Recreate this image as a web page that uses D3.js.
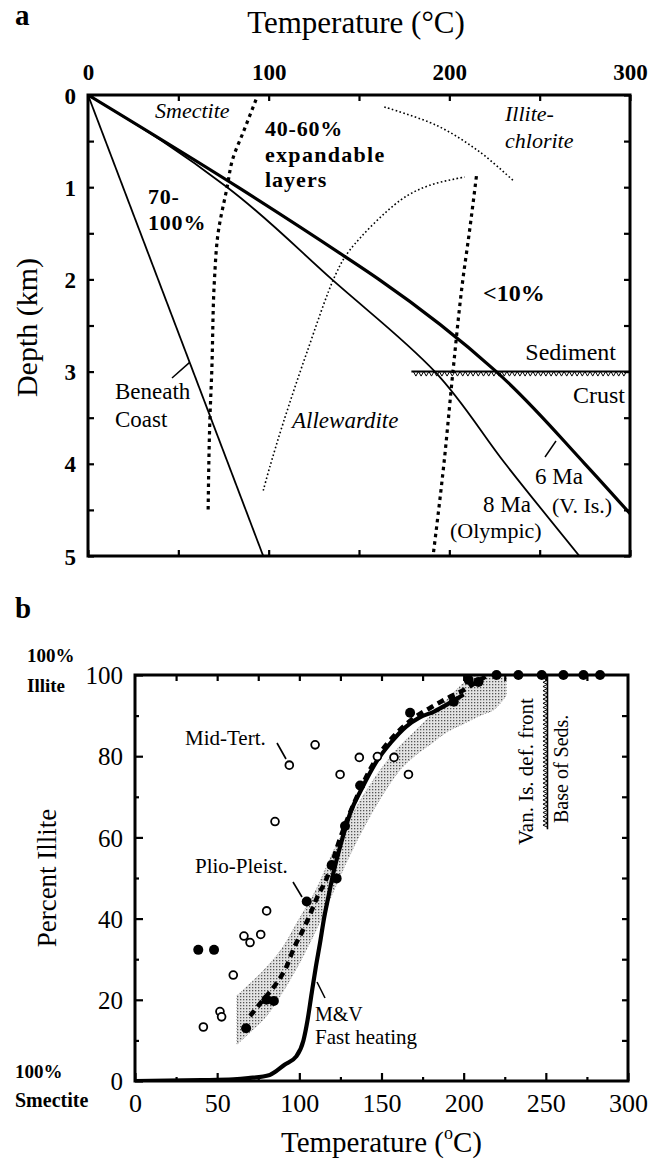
<!DOCTYPE html>
<html><head><meta charset="utf-8">
<script src="https://cdn.jsdelivr.net/npm/d3@7"></script>
<style>
body{margin:0;background:#fff}
svg{display:block}
text{font-family:"Liberation Serif","Times New Roman",serif;fill:#000}
</style>
</head><body>
<svg id="c" width="663" height="1161"></svg>
<script>
// ---------- Panel a data ([temperature °C, depth km]) ----------
const tempTicksA = [0, 50, 100, 150, 200, 250, 300];
const depthTicksA = [0, 0.5, 1, 1.5, 2, 2.5, 3, 3.5, 4, 4.5, 5];
const geothermCoast = [[0, 0], [97, 5]];
const geotherm8Ma = [[0, 0], [41, 0.5], [77, 1], [135, 2], [192, 3], [231, 4], [272, 5]];
const geotherm6Ma = [[0, 0], [83, 1], [142, 1.75], [161, 2], [226, 3], [275, 4], [305, 4.65]];
const isogradSmectite = [[93, 0.05], [86, 0.4], [80, 0.7], [77, 1], [72, 1.5], [70, 2], [68.5, 3], [67.5, 3.5], [66.5, 4.5]];
const isogradIllite = [[215, 0.88], [211, 1.5], [207.5, 2], [202, 3], [197, 4], [191, 5]];
const allewarditeBound = [[97, 4.29], [100.7, 4.03], [108, 3.56], [121, 2.8], [137, 1.95], [145, 1.68], [173, 1.14], [189, 0.98], [208.6, 0.89]];
const chloriteBound = [[164, 0.13], [193, 0.33], [217, 0.62], [236, 0.94]];
const boundaryDepth = 3;
const boundaryTemps = [179, 300];

// ---------- Panel b data ([temperature °C, percent illite]) ----------
const tempTicksB = [0, 50, 100, 150, 200, 250, 300];
const illiteTicks = [0, 20, 40, 60, 80, 100];
const openCircles = [[93.9, 77.8], [109.6, 82.8], [124.8, 75.5], [136.5, 79.7], [147.5, 79.9], [157.6, 79.7], [166.4, 75.5], [85.2, 63.9], [80.1, 41.9], [66.3, 35.7], [70, 34.1], [76.5, 36.1], [59.8, 26.1], [51.7, 17.1], [52.7, 15.8], [41.6, 13.3]];
const filledCircles = [[38.5, 32.3], [48.1, 32.3], [67.6, 13], [80, 20], [84.5, 19.7], [104.5, 44.2], [122.7, 49.9], [119.7, 53.2], [127.8, 62.8], [137, 72.8], [167.4, 90.7], [194, 93.4], [203, 98.8], [209, 98.3], [220, 100], [233.3, 100], [247.5, 100], [260.7, 100], [272.9, 100], [283, 100]];
const fastHeating = [[0, 0], [40, 0.2], [60, 0.4], [69, 0.7], [82, 1.5], [91, 4], [98, 6], [102.5, 10], [105, 15], [107.5, 21.6], [110, 28], [112.6, 34], [115, 40], [117.7, 45.4], [120.7, 51.2], [125, 58], [131, 66], [138, 72], [147, 78.7], [156, 83.5], [165, 87.3], [173, 89.5], [182, 91], [191, 93], [200, 95.2]];
const plioModel = [[70, 16], [78, 20], [86, 24], [92, 28], [97, 33], [102, 37], [106.5, 41], [110.6, 45], [116.7, 50], [125, 60], [135, 70], [147, 79.5], [160, 86], [170, 89.5], [180, 92], [190, 94.3], [200, 96.3], [208, 98.3], [215, 100]];
const bandTemps = [62, 70, 80, 90, 100, 110, 120, 130, 140, 150, 160, 170, 180, 190, 200, 210, 220, 226];
const bandUpper = [21, 24, 28, 33, 40, 47, 56, 64, 71, 77, 82, 86, 90, 94, 98, 100, 100, 100];
const bandLower = [9, 12, 16, 22, 29, 37, 46, 55, 63, 70, 76, 80, 83, 86, 88, 90, 92, 95];
const defFrontTemp = 251;
const defFrontRange = [62, 100];

const svg = d3.select("#c");

// ================= PANEL A =================
const xA = d3.scaleLinear([0, 300], [88, 630]);
const yA = d3.scaleLinear([0, 5], [95, 556]);
const gA = svg.append("g");
svg.append("clipPath").attr("id", "clipA").append("rect")
  .attr("x", xA(0)).attr("y", yA(0)).attr("width", xA(300) - xA(0)).attr("height", yA(5) - yA(0));
const plotA = gA.append("g").attr("clip-path", "url(#clipA)");
const lineA = d3.line().x(d => xA(d[0])).y(d => yA(d[1]));
const smoothA = d3.line().x(d => xA(d[0])).y(d => yA(d[1])).curve(d3.curveMonotoneY);
const catA = d3.line().x(d => xA(d[0])).y(d => yA(d[1])).curve(d3.curveCatmullRom);

plotA.append("path").attr("d", lineA(geothermCoast)).attr("fill", "none").attr("stroke", "#000").attr("stroke-width", 1.8);
plotA.append("path").attr("d", smoothA(geotherm8Ma)).attr("fill", "none").attr("stroke", "#000").attr("stroke-width", 1.8);
plotA.append("path").attr("d", smoothA(geotherm6Ma)).attr("fill", "none").attr("stroke", "#000").attr("stroke-width", 3.2);
plotA.append("path").attr("d", smoothA(isogradSmectite)).attr("fill", "none").attr("stroke", "#000")
  .attr("stroke-width", 3.2).attr("stroke-dasharray", "3.5,4");
plotA.append("path").attr("d", smoothA(isogradIllite)).attr("fill", "none").attr("stroke", "#000")
  .attr("stroke-width", 3.2).attr("stroke-dasharray", "3.5,4");
plotA.append("path").attr("d", catA(allewarditeBound))
  .attr("fill", "none").attr("stroke", "#000").attr("stroke-width", 1.6).attr("stroke-dasharray", "1.6,2.4");
plotA.append("path").attr("d", catA(chloriteBound))
  .attr("fill", "none").attr("stroke", "#000").attr("stroke-width", 1.6).attr("stroke-dasharray", "1.6,2.4");

// sediment / crust boundary with hatching
const bx0 = xA(boundaryTemps[0]), bx1 = xA(boundaryTemps[1]), by = yA(boundaryDepth);
plotA.append("line").attr("x1", bx0).attr("x2", bx1).attr("y1", by).attr("y2", by).attr("stroke", "#000").attr("stroke-width", 2);
let hatch = "";
for (let x = bx0 + 2; x + 5 <= bx1; x += 5.2) hatch += `M${x},${by}L${x + 2.5},${by + 4.5}L${x + 5},${by}`;
plotA.append("path").attr("d", hatch).attr("fill", "none").attr("stroke", "#000").attr("stroke-width", 1);

// axes A
function styleAxis(g) { g.select(".domain").remove(); g.selectAll(".tick line").attr("stroke", "#000").attr("stroke-width", 2.2); }
gA.append("g").attr("transform", `translate(0,${yA(0)})`)
  .call(d3.axisTop(xA).tickValues(tempTicksA).tickSize(-6).tickPadding(15).tickFormat(d => d % 100 === 0 ? d : ""))
  .call(styleAxis).call(g => g.selectAll("text").attr("font-size", 23).attr("font-weight", "bold").attr("font-family", "Liberation Serif"));
gA.append("g").attr("transform", `translate(0,${yA(5)})`)
  .call(d3.axisBottom(xA).tickValues(tempTicksA).tickSize(-6).tickFormat("")).call(styleAxis);
gA.append("g").attr("transform", `translate(${xA(0)},0)`)
  .call(d3.axisLeft(yA).tickValues(depthTicksA).tickSize(-6).tickPadding(12).tickFormat(d => Number.isInteger(d) ? d : ""))
  .call(styleAxis).call(g => g.selectAll("text").attr("font-size", 23).attr("font-weight", "bold").attr("font-family", "Liberation Serif").attr("dy", "0.35em"));
gA.append("g").attr("transform", `translate(${xA(300)},0)`)
  .call(d3.axisRight(yA).tickValues(depthTicksA).tickSize(-6).tickFormat("")).call(styleAxis);
gA.append("rect").attr("x", xA(0)).attr("y", yA(0)).attr("width", xA(300) - xA(0)).attr("height", yA(5) - yA(0))
  .attr("fill", "none").attr("stroke", "#000").attr("stroke-width", 3);

function txt(g, x, y, s, size, opts = {}) {
  const t = g.append("text").attr("x", x).attr("y", y).attr("font-size", size).text(s);
  if (opts.bold) t.attr("font-weight", "bold");
  if (opts.italic) t.attr("font-style", "italic");
  if (opts.anchor) t.attr("text-anchor", opts.anchor);
  if (opts.ls) t.attr("letter-spacing", opts.ls);
  return t;
}
txt(gA, 15, 25, "a", 29, { bold: true });
txt(gA, 356, 33, "Temperature (°C)", 31, { anchor: "middle" });
gA.append("text").attr("transform", `translate(37,${(yA(0) + yA(5)) / 2 + 2}) rotate(-90)`)
  .attr("text-anchor", "middle").attr("font-size", 30).text("Depth (km)");

txt(gA, 155, 118, "Smectite", 22, { italic: true });
txt(gA, 265, 136, "40-60%", 22, { bold: true, ls: 0.8 });
txt(gA, 265, 162, "expandable", 22, { bold: true, ls: 1.3 });
txt(gA, 265, 187, "layers", 22, { bold: true, ls: 1 });
txt(gA, 148, 204, "70-", 22, { bold: true, ls: 0.8 });
txt(gA, 148, 230, "100%", 22, { bold: true, ls: 0.8 });
txt(gA, 505, 121, "Illite-", 22, { italic: true });
txt(gA, 505, 148, "chlorite", 22, { italic: true });
txt(gA, 483, 301, "<10%", 24, { bold: true });
txt(gA, 292, 428, "Allewardite", 23, { italic: true });
txt(gA, 115, 399, "Beneath", 23);
txt(gA, 115, 427, "Coast", 23);
txt(gA, 616, 360, "Sediment", 24, { anchor: "end" });
txt(gA, 625, 403, "Crust", 24, { anchor: "end" });
txt(gA, 535, 484, "6 Ma", 23);
txt(gA, 552, 513, "(V. Is.)", 22);
txt(gA, 483, 512, "8 Ma", 23);
txt(gA, 450, 538, "(Olympic)", 22);
// leaders
gA.append("line").attr("x1", 172).attr("y1", 378).attr("x2", xA(geothermCoast[1][0] * 0.58)).attr("y2", yA(5 * 0.58)).attr("stroke", "#000").attr("stroke-width", 1.5);
gA.append("line").attr("x1", 545).attr("y1", 457).attr("x2", 556).attr("y2", 441).attr("stroke", "#000").attr("stroke-width", 1.5);

// ================= PANEL B =================
const xB = d3.scaleLinear([0, 300], [135, 628]);
const yB = d3.scaleLinear([0, 100], [1081, 675]);
const gB = svg.append("g");
svg.append("clipPath").attr("id", "clipB").append("rect")
  .attr("x", xB(0)).attr("y", yB(100)).attr("width", xB(300) - xB(0)).attr("height", yB(0) - yB(100));
const plotB = gB.append("g").attr("clip-path", "url(#clipB)");

const defs = svg.append("defs");
const pat = defs.append("pattern").attr("id", "stip").attr("width", 3).attr("height", 3).attr("patternUnits", "userSpaceOnUse");
pat.append("rect").attr("width", 3).attr("height", 3).attr("fill", "#e3e3e3");
pat.append("rect").attr("width", 1.3).attr("height", 1.3).attr("fill", "#555");

const bandData = bandTemps.map((t, i) => ({ t, lo: bandLower[i], hi: bandUpper[i] }));
plotB.append("path").attr("d", d3.area().x(d => xB(d.t)).y0(d => yB(d.lo)).y1(d => yB(d.hi)).curve(d3.curveMonotoneX)(bandData))
  .attr("fill", "url(#stip)").attr("stroke", "#888").attr("stroke-width", 0.8).attr("stroke-dasharray", "1,2");

const lineB = d3.line().x(d => xB(d[0])).y(d => yB(d[1])).curve(d3.curveMonotoneX);
plotB.append("path").attr("d", lineB(plioModel)).attr("fill", "none").attr("stroke", "#000")
  .attr("stroke-width", 4.5).attr("stroke-dasharray", "7,5");
plotB.append("path").attr("d", lineB(fastHeating)).attr("fill", "none").attr("stroke", "#000").attr("stroke-width", 4.2);

plotB.selectAll("circle.open").data(openCircles).join("circle").attr("class", "open")
  .attr("cx", d => xB(d[0])).attr("cy", d => yB(d[1])).attr("r", 3.9)
  .attr("fill", "#fff").attr("stroke", "#000").attr("stroke-width", 1.8);

// deformation front
const fx = xB(defFrontTemp);
gB.append("line").attr("x1", fx).attr("x2", fx).attr("y1", yB(defFrontRange[1])).attr("y2", yB(defFrontRange[0]))
  .attr("stroke", "#000").attr("stroke-width", 1.6);
let zig = "";
for (let y = yB(defFrontRange[1]) + 1; y + 4 <= yB(defFrontRange[0]); y += 4.2) zig += `M${fx},${y}L${fx - 4.5},${y + 2.1}L${fx},${y + 4.2}`;
gB.append("path").attr("d", zig).attr("fill", "none").attr("stroke", "#000").attr("stroke-width", 1);

// axes B
gB.append("g").attr("transform", `translate(0,${yB(0)})`)
  .call(d3.axisBottom(xB).tickValues(d3.range(25, 300, 50)).tickSize(-4).tickFormat("")).call(styleAxis);
gB.append("g").attr("transform", `translate(0,${yB(0)})`)
  .call(d3.axisBottom(xB).tickValues(tempTicksB).tickSize(-8).tickPadding(13))
  .call(styleAxis).call(g => g.selectAll("text").attr("font-size", 26).attr("font-family", "Liberation Serif"));
gB.append("g").attr("transform", `translate(0,${yB(100)})`)
  .call(d3.axisTop(xB).tickValues(d3.range(25, 300, 25)).tickSize(-6).tickFormat("")).call(styleAxis);
gB.append("g").attr("transform", `translate(${xB(0)},0)`)
  .call(d3.axisLeft(yB).tickValues(d3.range(10, 100, 20)).tickSize(-4).tickFormat("")).call(styleAxis);
gB.append("g").attr("transform", `translate(${xB(0)},0)`)
  .call(d3.axisLeft(yB).tickValues(illiteTicks).tickSize(-8).tickPadding(12))
  .call(styleAxis).call(g => g.selectAll("text").attr("font-size", 25).attr("font-family", "Liberation Serif").attr("dy", "0.35em"));
gB.append("g").attr("transform", `translate(${xB(300)},0)`)
  .call(d3.axisRight(yB).tickValues(d3.range(10, 100, 10)).tickSize(-6).tickFormat("")).call(styleAxis);
gB.append("rect").attr("x", xB(0)).attr("y", yB(100)).attr("width", xB(300) - xB(0)).attr("height", yB(0) - yB(100))
  .attr("fill", "none").attr("stroke", "#000").attr("stroke-width", 3);
gB.selectAll("circle.filled").data(filledCircles).join("circle").attr("class", "filled")
  .attr("cx", d => xB(d[0])).attr("cy", d => yB(d[1])).attr("r", 5).attr("fill", "#000");

txt(gB, 15, 618, "b", 29, { bold: true });
txt(gB, 27, 662, "100%", 19, { bold: true });
txt(gB, 27, 692, "Illite", 19, { bold: true });
txt(gB, 15, 1078, "100%", 19, { bold: true });
txt(gB, 15, 1107, "Smectite", 20, { bold: true });
const xt = txt(gB, (xB(0) + xB(300)) / 2, 1152, "Temperature (", 29, { anchor: "middle" });
xt.append("tspan").attr("font-size", 18).attr("dy", -13).text("o");
xt.append("tspan").attr("dy", 13).text("C)");
gB.append("text").attr("transform", `translate(56,${(yB(0) + yB(100)) / 2}) rotate(-90)`)
  .attr("text-anchor", "middle").attr("font-size", 27).text("Percent Illite");
txt(gB, 185, 745, "Mid-Tert.", 21);
txt(gB, 195, 873, "Plio-Pleist.", 21);
txt(gB, 315, 1021, "M&V", 20);
txt(gB, 315, 1044, "Fast heating", 21);
gB.append("text").attr("transform", `translate(533,845) rotate(-90)`).attr("font-size", 21).text("Van. Is. def. front");
gB.append("text").attr("transform", `translate(568,823) rotate(-90)`).attr("font-size", 20).text("Base of Seds.");
// leaders
gB.append("line").attr("x1", 277).attr("y1", 743).attr("x2", 286).attr("y2", 759).attr("stroke", "#000").attr("stroke-width", 1.6);
gB.append("line").attr("x1", 293).attr("y1", 882).attr("x2", 302).attr("y2", 897).attr("stroke", "#000").attr("stroke-width", 1.6);
gB.append("line").attr("x1", 325).attr("y1", 998).attr("x2", 317).attr("y2", 982).attr("stroke", "#000").attr("stroke-width", 1.6);
</script>
</body></html>
